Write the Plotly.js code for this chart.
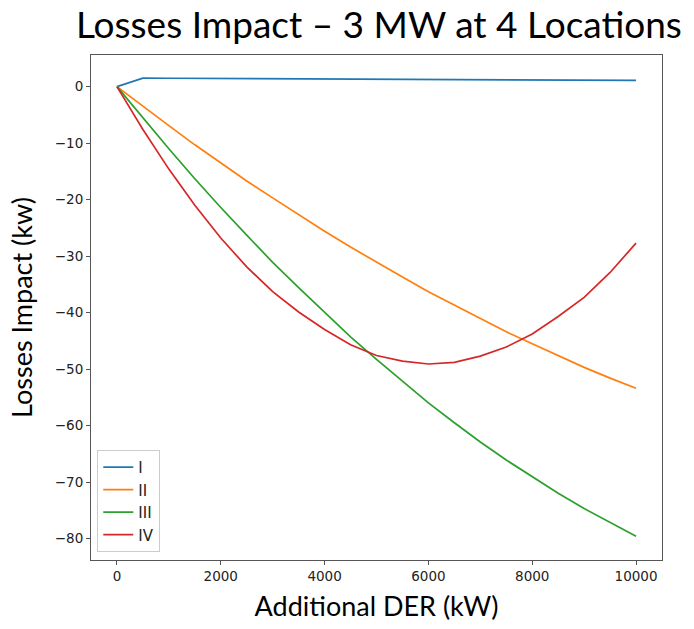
<!DOCTYPE html>
<html>
<head>
<meta charset="utf-8">
<script src="https://cdn.plot.ly/plotly-3.0.1.min.js"></script>
<style>html,body{margin:0;padding:0;background:#fff;}#chart{width:694px;height:629px;}</style>
</head>
<body>
<div id="chart"></div>
<script>
// Additional DER (kW)
const derKW = [0,500,1000,1500,2000,2500,3000,3500,4000,4500,5000,5500,6000,6500,7000,7500,8000,8500,9000,9500,10000];
// Losses impact (kW) per location
const lossI   = [0,1.50,1.48,1.46,1.44,1.41,1.39,1.37,1.35,1.33,1.31,1.29,1.27,1.25,1.23,1.21,1.18,1.16,1.14,1.12,1.10];
const lossII  = [0,-3.5,-6.9,-10.3,-13.5,-16.7,-19.7,-22.7,-25.6,-28.4,-31.1,-33.7,-36.3,-38.7,-41.1,-43.4,-45.5,-47.6,-49.7,-51.6,-53.4];
const lossIII = [0,-5.6,-11.0,-16.3,-21.4,-26.3,-31.1,-35.6,-40.0,-44.3,-48.3,-52.2,-56.0,-59.5,-62.9,-66.1,-69.1,-72.0,-74.7,-77.2,-79.6];
const lossIV  = [0,-7.6,-14.6,-21.0,-26.8,-31.9,-36.3,-39.9,-43.0,-45.7,-47.6,-48.6,-49.1,-48.8,-47.7,-46.1,-43.8,-40.7,-37.3,-32.9,-27.7];
const seriesNames = ["I","II","III","IV"];
const seriesColors = ["#1f77b4","#ff7f0e","#2ca02c","#d62728"];
const xTicks = [0,2000,4000,6000,8000,10000];
const yTicks = [0,-10,-20,-30,-40,-50,-60,-70,-80];

const ys = [lossI, lossII, lossIII, lossIV];
const traces = ys.map((y,i)=>({
  x: derKW, y: y, type: 'scatter', mode: 'lines', name: seriesNames[i],
  line: {color: seriesColors[i], width: 1.7}
}));

const axisCommon = {
  showline: true, mirror: true, linecolor: '#555', linewidth: 1,
  ticks: 'outside', ticklen: 4, tickcolor: '#555', tickwidth: 1,
  showgrid: false, zeroline: false,
  tickfont: {family: 'DejaVu Sans', size: 13.5, color: '#222'}
};

const layout = {
  width: 694, height: 629,
  paper_bgcolor: '#fff', plot_bgcolor: '#fff',
  margin: {l: 91, r: 32, t: 55, b: 69},
  title: {text: 'Losses Impact – 3 MW at 4 Locations', xref: 'container', x: 0.546, xanchor: 'center',
          yref: 'container', y: 1 - 25/629, yanchor: 'middle',
          font: {family: 'Lato', size: 37, color: '#000'}},
  xaxis: Object.assign({}, axisCommon, {
    range: [-500, 10500], tickvals: xTicks, ticktext: xTicks.map(String),
    title: {text: 'Additional DER (kW)', standoff: 13, font: {family: 'Lato', size: 27, color: '#000'}}
  }),
  yaxis: Object.assign({}, axisCommon, {
    range: [-83.8, 5.6], tickvals: yTicks, ticktext: yTicks.map(v => v < 0 ? '\u2212' + Math.abs(v) : String(v)),
    title: {text: 'Losses Impact (kw)', standoff: 14, font: {family: 'Lato', size: 27, color: '#000'}}
  }),
  showlegend: true,
  legend: {x: 0.011, y: 0.016, xanchor: 'left', yanchor: 'bottom', bgcolor: '#fff',
           bordercolor: '#ccc', borderwidth: 1, font: {family: 'DejaVu Sans', size: 15, color: '#222'},
           tracegroupgap: 0, itemwidth: 30}
};

Plotly.newPlot('chart', traces, layout, {displayModeBar: false, staticPlot: true});
</script>
</body>
</html>
